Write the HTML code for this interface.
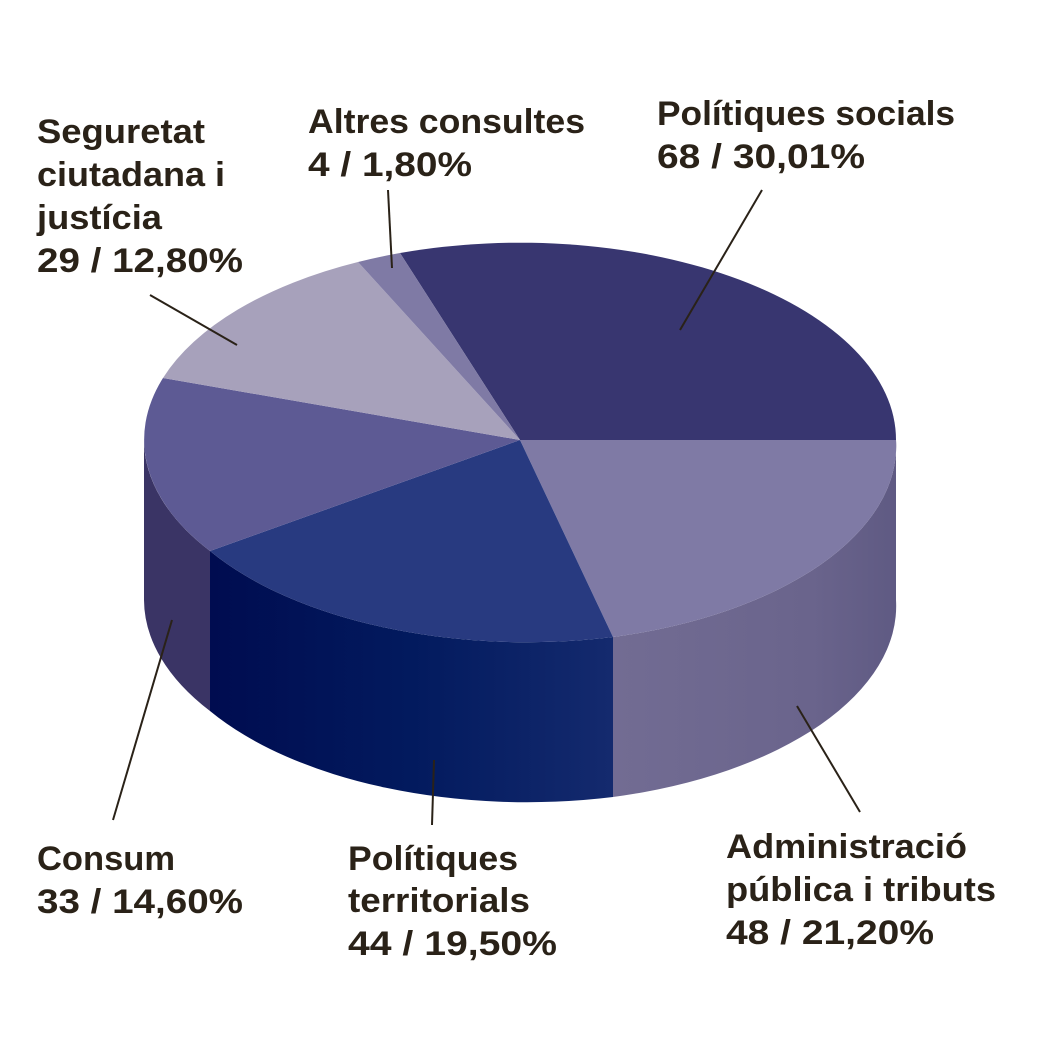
<!DOCTYPE html>
<html><head><meta charset="utf-8"><style>html,body{margin:0;padding:0;background:#fff}</style></head>
<body>
<svg width="1040" height="1040" viewBox="0 0 1040 1040" xmlns="http://www.w3.org/2000/svg">
<defs>
<linearGradient id="terr" x1="0" x2="1" y1="0" y2="0">
<stop offset="0" stop-color="#000c50"/><stop offset="0.5" stop-color="#021a5e"/><stop offset="1" stop-color="#142a6e"/>
</linearGradient>
<linearGradient id="adm" x1="0" x2="1">
<stop offset="0" stop-color="#726c93"/><stop offset="0.7" stop-color="#6a648c"/><stop offset="1" stop-color="#5f5a83"/>
</linearGradient>
</defs>
<!-- sides -->
<path d="M896,440 A376,197 0 0 1 613,637 L613,797 A376,197 0 0 0 896,600 Z" fill="url(#adm)"/>
<path d="M613,637 A376,197 0 0 1 210,551 L210,711 A376,197 0 0 0 613,797 Z" fill="url(#terr)"/>
<path d="M210,551 A376,197 0 0 1 144,440 L144,600 A376,197 0 0 0 210,711 Z" fill="#3a3465"/>
<!-- top -->
<path d="M520,440 L400,253 A376,197 0 0 1 896,440 Z" fill="#383670"/>
<path d="M520,440 L896,440 A376,197 0 0 1 613,637 Z" fill="#7f7aa5"/>
<path d="M520,440 L613,637 A376,197 0 0 1 210,551 Z" fill="#283a80"/>
<path d="M520,440 L210,551 A376,197 0 0 1 163,378 Z" fill="#5d5a94"/>
<path d="M520,440 L163,378 A376,197 0 0 1 358,262 Z" fill="#a7a1bb"/>
<path d="M520,440 L358,262 A376,197 0 0 1 400,253 Z" fill="#7f7aa5"/>
<!-- leaders -->
<g stroke="#2a2218" stroke-width="2">
<line x1="762" y1="190" x2="680" y2="330"/>
<line x1="860" y1="812" x2="797" y2="706"/>
<line x1="432" y1="825" x2="434" y2="760"/>
<line x1="113" y1="820" x2="172" y2="620"/>
<line x1="150" y1="295" x2="237" y2="345"/>
<line x1="388" y1="190" x2="392" y2="268"/>
</g>
<g font-family="Liberation Sans, sans-serif" font-weight="bold" font-size="34" fill="#2a2218" lengthAdjust="spacingAndGlyphs">
<text x="37" y="143" textLength="168" lengthAdjust="spacingAndGlyphs">Seguretat</text>
<text x="37" y="186" textLength="188" lengthAdjust="spacingAndGlyphs">ciutadana i</text>
<text x="37" y="229" textLength="125" lengthAdjust="spacingAndGlyphs">justícia</text>
<text x="37" y="272" textLength="206" lengthAdjust="spacingAndGlyphs">29 / 12,80%</text>
<text x="308" y="133" textLength="277" lengthAdjust="spacingAndGlyphs">Altres consultes</text>
<text x="308" y="176" textLength="164" lengthAdjust="spacingAndGlyphs">4 / 1,80%</text>
<text x="657" y="125" textLength="298" lengthAdjust="spacingAndGlyphs">Polítiques socials</text>
<text x="657" y="168" textLength="208" lengthAdjust="spacingAndGlyphs">68 / 30,01%</text>
<text x="37" y="870" textLength="138" lengthAdjust="spacingAndGlyphs">Consum</text>
<text x="37" y="913" textLength="206" lengthAdjust="spacingAndGlyphs">33 / 14,60%</text>
<text x="348" y="870" textLength="170" lengthAdjust="spacingAndGlyphs">Polítiques</text>
<text x="348" y="912" textLength="182" lengthAdjust="spacingAndGlyphs">territorials</text>
<text x="348" y="955" textLength="209" lengthAdjust="spacingAndGlyphs">44 / 19,50%</text>
<text x="726" y="858" textLength="241" lengthAdjust="spacingAndGlyphs">Administració</text>
<text x="726" y="901" textLength="270" lengthAdjust="spacingAndGlyphs">pública i tributs</text>
<text x="726" y="944" textLength="208" lengthAdjust="spacingAndGlyphs">48 / 21,20%</text>
</g>
</svg>
</body></html>
